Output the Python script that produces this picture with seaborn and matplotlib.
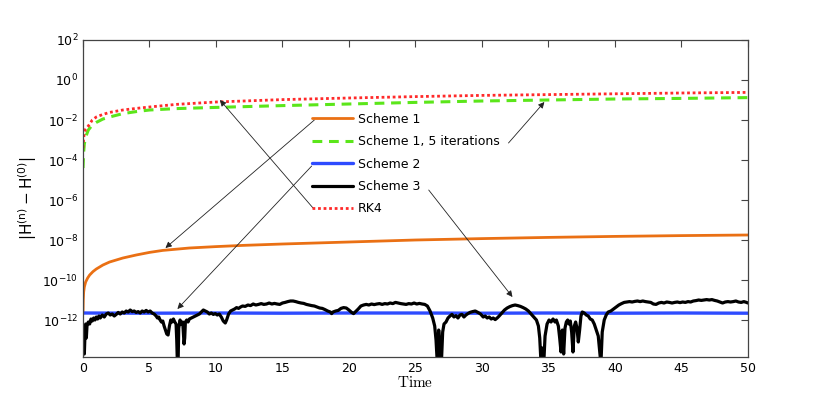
import numpy as np
import pandas as pd
import seaborn as sns
import matplotlib.pyplot as plt

# === Values (exponents, log10 of |H(n) - H(0)|) ===
scheme1_t = [0, 0.02, 0.05, 0.1, 0.2, 0.35, 0.5, 0.75, 1.0, 1.5, 2, 3, 4, 5, 6, 8, 10, 12,
             15, 20, 25, 30, 35, 40, 45, 50]
scheme1_exp = [-11.7, -11.0, -10.6, -10.35, -10.1, -9.9, -9.75, -9.58, -9.45, -9.25, -9.1,
               -8.9, -8.75, -8.62, -8.52, -8.4, -8.33, -8.27, -8.2, -8.1, -8.0, -7.93,
               -7.87, -7.82, -7.78, -7.75]

iter5_t = [0, 0.05, 0.1, 0.2, 0.4, 0.7, 1.0, 1.5, 2, 3, 4, 5, 7, 10, 15, 20, 25, 30, 35,
           40, 45, 50]
iter5_exp = [-4.4, -3.6, -3.2, -2.85, -2.5, -2.25, -2.12, -1.95, -1.85, -1.68, -1.58, -1.5,
             -1.43, -1.37, -1.28, -1.2, -1.12, -1.05, -1.0, -0.95, -0.92, -0.88]

scheme2_t = [0, 5, 10, 15, 20, 25, 30, 35, 40, 45, 50]
scheme2_exp = [-11.65, -11.66, -11.65, -11.66, -11.65, -11.65, -11.66, -11.65, -11.66,
               -11.65, -11.66]

scheme3_t = [
    0.0, 0.05, 0.1, 0.15, 0.2, 0.25, 0.3, 0.4, 0.5, 0.6, 0.7, 0.8, 0.9, 1.0, 1.1, 1.2, 1.3,
    1.45, 1.6, 1.75, 1.9, 2.05, 2.2, 2.35, 2.5, 2.65, 2.8, 2.95, 3.1, 3.25, 3.4, 3.55, 3.7,
    3.85, 4.0, 4.15, 4.3, 4.45, 4.6, 4.75, 4.9, 5.05, 5.2, 5.35, 5.5, 5.6, 5.7, 5.8, 5.9,
    6.0, 6.1, 6.2, 6.3, 6.4, 6.5, 6.6, 6.7, 6.8, 6.9, 7.0, 7.05, 7.1, 7.15, 7.2, 7.3, 7.4,
    7.5, 7.6, 7.65, 7.7, 7.8, 7.9, 8.0, 8.15, 8.3, 8.45, 8.6, 8.75, 8.9, 9.05, 9.2, 9.35,
    9.5, 9.65, 9.8, 9.95, 10.1, 10.25, 10.4, 10.55, 10.7, 10.8, 10.95, 11.1, 11.25, 11.4,
    11.55, 11.7, 11.85, 12.0, 12.2, 12.4, 12.6, 12.8, 13.0, 13.2, 13.4, 13.6, 13.8, 14.0,
    14.2, 14.4, 14.6, 14.8, 15.0, 15.2, 15.4, 15.6, 15.8, 16.0, 16.2, 16.4, 16.6, 16.8,
    17.0, 17.2, 17.4, 17.6, 17.8, 18.0, 18.2, 18.4, 18.6, 18.7, 18.8, 19.0, 19.2, 19.4,
    19.6, 19.8, 20.0, 20.2, 20.35, 20.5, 20.7, 20.9, 21.1, 21.3, 21.5, 21.7, 21.9, 22.1,
    22.3, 22.5, 22.7, 22.9, 23.1, 23.3, 23.5, 23.7, 23.9, 24.1, 24.3, 24.5, 24.7, 24.9,
    25.1, 25.3, 25.5, 25.7, 25.9, 26.1, 26.3, 26.45, 26.55, 26.65, 26.75, 26.85, 26.95,
    27.05, 27.15, 27.3, 27.45, 27.6, 27.75, 27.9, 28.05, 28.2, 28.35, 28.5, 28.65, 28.8,
    28.95, 29.1, 29.3, 29.5, 29.7, 29.9, 30.1, 30.25, 30.4, 30.55, 30.7, 30.85, 31.0,
    31.15, 31.3, 31.5, 31.7, 31.9, 32.1, 32.3, 32.5, 32.7, 32.9, 33.1, 33.3, 33.5, 33.7,
    33.9, 34.1, 34.25, 34.35, 34.45, 34.55, 34.65, 34.75, 34.9, 35.05, 35.2, 35.35, 35.5,
    35.6, 35.75, 35.85, 35.95, 36.05, 36.15, 36.25, 36.35, 36.45, 36.55, 36.65, 36.75,
    36.85, 36.95, 37.05, 37.15, 37.25, 37.35, 37.45, 37.55, 37.7, 37.85, 38.0, 38.15,
    38.3, 38.45, 38.6, 38.75, 38.85, 38.95, 39.05, 39.2, 39.35, 39.5, 39.7, 39.9, 40.1,
    40.3, 40.5, 40.7, 40.9, 41.1, 41.3, 41.5, 41.7, 41.9, 42.1, 42.3, 42.5, 42.7, 42.9,
    43.1, 43.3, 43.5, 43.7, 43.9, 44.1, 44.3, 44.5, 44.7, 44.9, 45.1, 45.3, 45.5, 45.7,
    45.9, 46.1, 46.3, 46.5, 46.7, 46.9, 47.1, 47.3, 47.5, 47.7, 47.9, 48.1, 48.3, 48.5,
    48.7, 48.9, 49.1, 49.3, 49.5, 49.7, 49.9, 50.0]
scheme3_exp = [
    -12.4, -13.2, -13.7, -12.7, -12.2, -12.9, -12.3, -12.1, -12.2, -11.95, -12.05, -11.9,
    -12.0, -11.85, -11.95, -11.8, -11.9, -11.75, -11.85, -11.7, -11.65, -11.75, -11.7,
    -11.8, -11.72, -11.62, -11.7, -11.6, -11.65, -11.55, -11.6, -11.5, -11.58, -11.55,
    -11.62, -11.58, -11.65, -11.55, -11.6, -11.52, -11.6, -11.55, -11.65, -11.7, -11.8,
    -11.9, -11.85, -12.0, -12.1, -12.05, -12.3, -12.5, -12.7, -12.75, -12.3, -12.0, -12.1,
    -11.95, -12.1, -12.2, -13.0, -14.2, -14.2, -12.4, -12.0, -12.2, -12.1, -13.2, -12.9,
    -12.1, -12.0, -12.1, -11.95, -11.9, -11.85, -11.8, -11.75, -11.7, -11.6, -11.5,
    -11.55, -11.6, -11.7, -11.65, -11.72, -11.68, -11.75, -11.7, -11.85, -12.05, -12.15,
    -12.0, -11.7, -11.55, -11.5, -11.45, -11.38, -11.42, -11.35, -11.3, -11.32, -11.25,
    -11.28, -11.2, -11.25, -11.22, -11.18, -11.22, -11.2, -11.15, -11.2, -11.17, -11.2,
    -11.22, -11.15, -11.12, -11.08, -11.05, -11.05, -11.08, -11.12, -11.15, -11.17,
    -11.22, -11.25, -11.28, -11.3, -11.35, -11.4, -11.42, -11.48, -11.55, -11.6, -11.68,
    -11.6, -11.55, -11.52, -11.42, -11.38, -11.4, -11.5, -11.62, -11.68, -11.58, -11.45,
    -11.3, -11.25, -11.22, -11.25, -11.2, -11.23, -11.2, -11.18, -11.22, -11.18, -11.2,
    -11.15, -11.18, -11.12, -11.15, -11.18, -11.2, -11.22, -11.18, -11.2, -11.15, -11.2,
    -11.17, -11.2, -11.22, -11.3, -11.55, -11.9, -12.3, -13.0, -14.2, -12.5, -13.2,
    -14.2, -12.6, -12.2, -12.1, -11.9, -11.8, -11.72, -11.85, -11.78, -11.9, -11.75,
    -11.72, -11.85, -11.75, -11.68, -11.62, -11.58, -11.55, -11.62, -11.7, -11.85, -11.8,
    -11.9, -11.85, -11.95, -11.9, -11.98, -11.9, -11.8, -11.65, -11.5, -11.4, -11.33,
    -11.28, -11.25, -11.28, -11.32, -11.38, -11.45, -11.55, -11.7, -11.85, -12.0, -12.3,
    -12.9, -14.2, -13.4, -14.2, -12.8, -12.2, -12.0, -12.1, -11.95, -12.1, -12.0, -12.3,
    -12.9, -13.6, -12.5, -13.7, -12.4, -12.1, -12.0, -12.2, -12.05, -12.6, -13.6, -12.3,
    -12.1, -12.4, -13.1, -12.5, -11.8, -11.6, -11.65, -11.75, -11.8, -11.95, -12.0,
    -12.2, -12.5, -12.8, -13.5, -14.2, -12.6, -12.0, -11.75, -11.6, -11.55, -11.45,
    -11.35, -11.25, -11.18, -11.12, -11.1, -11.08, -11.1, -11.07, -11.05, -11.08, -11.05,
    -11.08, -11.1, -11.12, -11.2, -11.22, -11.15, -11.12, -11.15, -11.1, -11.12, -11.15,
    -11.12, -11.1, -11.13, -11.1, -11.12, -11.08, -11.1, -11.05, -11.03, -11.0, -11.02,
    -11.0, -10.98, -11.0, -10.98, -11.02, -11.05, -11.1, -11.15, -11.1, -11.08, -11.1,
    -11.08, -11.05, -11.1, -11.12, -11.08, -11.12, -11.15]

rk4_t = [0, 0.05, 0.1, 0.2, 0.4, 0.7, 1.0, 1.5, 2, 3, 4, 5, 7, 10, 15, 20, 25, 30, 35, 40,
         45, 50]
rk4_exp = [-3.4, -2.9, -2.65, -2.45, -2.3, -2.0, -1.85, -1.72, -1.62, -1.5, -1.42, -1.35,
           -1.22, -1.1, -0.98, -0.9, -0.83, -0.77, -0.73, -0.69, -0.65, -0.62]

series = [
    ("Scheme 1", scheme1_t, scheme1_exp, "#EA7014", "-", 2.0),
    ("Scheme 1, 5 iterations", iter5_t, iter5_exp, "#5BE61A", (0, (3.2, 2.2)), 2.2),
    ("Scheme 2", scheme2_t, scheme2_exp, "#2E4BFF", "-", 2.4),
    ("Scheme 3", scheme3_t, scheme3_exp, "black", "-", 2.3),
    ("RK4", rk4_t, rk4_exp, "#FF2A2A", (0, (1, 1)), 2.0),
]

# === Figure ===
sns.set_style("white")
plt.rcParams['font.family'] = ['DejaVu Sans']
plt.rcParams['text.color'] = 'black'
plt.rcParams['axes.labelcolor'] = 'black'
fig = plt.figure(figsize=(8.3, 3.98), dpi=100)
ax = fig.add_axes([0.1, 0.103, 0.801, 0.7965])
ax.set_yscale('log')

for name, t, e, col, ls, lw in series:
    df = pd.DataFrame({'Time': t, 'err': 10.0 ** np.array(e)})
    sns.lineplot(data=df, x='Time', y='err', ax=ax, color=col, linestyle=ls, linewidth=lw,
                 label=name, estimator=None, sort=False)

ax.set_xlim(0, 50)
ax.set_ylim(10 ** -13.85, 1e2)
ax.set_xticks(range(0, 51, 5))
ax.set_yticks([10.0 ** k for k in range(2, -13, -2)])
ax.minorticks_off()
ax.tick_params(direction='in', length=5, width=0.8, top=True, right=True,
               labelsize=9, colors='#444444', labelcolor='black')
for sp in ax.spines.values():
    sp.set_color('#444444')
    sp.set_linewidth(0.9)

ax.set_xlabel(r'$\mathrm{Time}$', math_fontfamily='cm', fontsize=11, labelpad=0)
ax.set_ylabel(r'$|\mathsf{H}^{\mathsf{(n)}} - \mathsf{H}^{\mathsf{(0)}}|$', fontsize=11,
              labelpad=2)

ax.legend(loc='upper left', bbox_to_anchor=(0.335, 0.79), frameon=False, fontsize=9,
          handlelength=3.3, handletextpad=0.4, labelspacing=0.75, borderpad=0,
          labelcolor='black')

# arrows from legend entries to curves
arrows = [
    ((6.2, 10 ** -8.4), (17.4, 10 ** -2.0)),
    ((34.7, 10 ** -1.1), (32.0, 10 ** -3.15)),
    ((7.1, 10 ** -11.45), (17.2, 10 ** -4.3)),
    ((32.3, 10 ** -10.85), (26.0, 10 ** -5.5)),
    ((10.3, 10 ** -1.0), (17.3, 10 ** -6.4)),
]
for head, tail in arrows:
    ax.annotate('', xy=head, xytext=tail,
                arrowprops=dict(arrowstyle='-|>', color='#222222', lw=0.6,
                                mutation_scale=9, shrinkA=0, shrinkB=0))

fig.savefig('out.png', dpi=100)
